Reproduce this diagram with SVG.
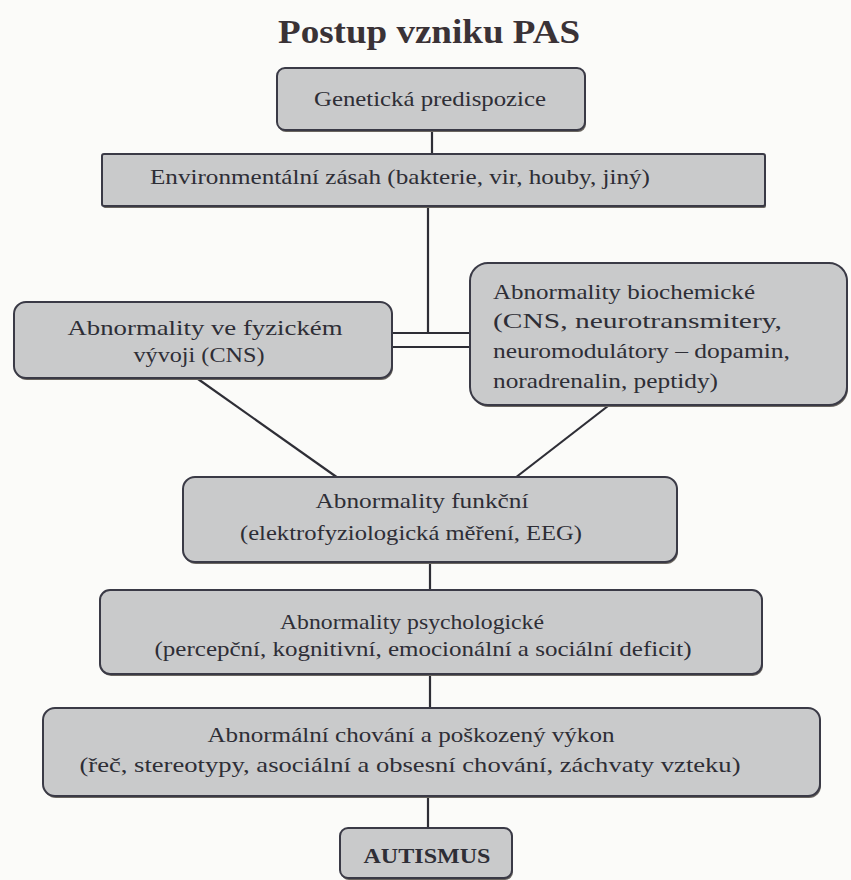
<svg xmlns="http://www.w3.org/2000/svg" width="851" height="880" viewBox="0 0 851 880">
<style>
.bg{fill:#fbfbf9}
.box{fill:#c9cacb;stroke:#3a3a46;stroke-width:2}
.sh{fill:#6a6660}
.t{font-family:"Liberation Serif",serif;font-size:21px;fill:#2e2e36;text-anchor:middle}
.tl{text-anchor:start}
.title{font-family:"Liberation Serif",serif;font-size:33px;font-weight:bold;fill:#3a3236;text-anchor:middle}
.c{stroke:#2e2e36;stroke-width:2.2;fill:none}
</style>
<rect class="bg" x="0" y="0" width="851" height="880"/>
<text class="title" x="429" y="43" textLength="302" lengthAdjust="spacingAndGlyphs">Postup vzniku PAS</text>
<g id="connectors">
<line class="c" x1="432" y1="130" x2="432" y2="154"/>
<line class="c" x1="428" y1="206" x2="428" y2="333"/>
<line class="c" x1="392" y1="333" x2="470" y2="333"/>
<line class="c" x1="392" y1="347" x2="470" y2="347"/>
<line class="c" x1="198" y1="379" x2="338" y2="478"/>
<line class="c" x1="608" y1="406" x2="515" y2="478"/>
<line class="c" x1="430" y1="563" x2="430" y2="590"/>
<line class="c" x1="430" y1="676" x2="430" y2="707"/>
<line class="c" x1="428" y1="796" x2="428" y2="828"/>
</g>
<g id="genetic">
<rect class="sh" x="278" y="70" width="308" height="62" rx="8"/>
<rect class="box" x="277" y="68" width="308" height="62" rx="8"/>
<text class="t" x="430" y="106" textLength="232" lengthAdjust="spacingAndGlyphs">Genetická predispozice</text>
</g>
<g id="environment">
<rect class="sh" x="103" y="156" width="663" height="52" rx="2"/>
<rect class="box" x="102" y="154" width="663" height="52" rx="2"/>
<text class="t" x="400" y="184" textLength="500" lengthAdjust="spacingAndGlyphs">Environmentální zásah (bakterie, vir, houby, jiný)</text>
</g>
<g id="physical">
<rect class="sh" x="15" y="304" width="378" height="76" rx="12"/>
<rect class="box" x="14" y="302" width="378" height="76" rx="12"/>
<text class="t" x="205" y="335" textLength="275" lengthAdjust="spacingAndGlyphs">Abnormality ve fyzickém</text>
<text class="t" x="199" y="362" textLength="131" lengthAdjust="spacingAndGlyphs">vývoji (CNS)</text>
</g>
<g id="biochemical">
<rect class="sh" x="471" y="265" width="377" height="142" rx="18"/>
<rect class="box" x="470" y="263" width="377" height="142" rx="18"/>
<text class="t tl" x="493" y="299" textLength="262" lengthAdjust="spacingAndGlyphs">Abnormality biochemické</text>
<text class="t tl" x="493" y="328" textLength="289" lengthAdjust="spacingAndGlyphs">(CNS, neurotransmitery,</text>
<text class="t tl" x="493" y="358" textLength="297" lengthAdjust="spacingAndGlyphs">neuromodulátory – dopamin,</text>
<text class="t tl" x="493" y="388" textLength="225" lengthAdjust="spacingAndGlyphs">noradrenalin, peptidy)</text>
</g>
<g id="functional">
<rect class="sh" x="184" y="479" width="494" height="85" rx="12"/>
<rect class="box" x="183" y="477" width="494" height="85" rx="12"/>
<text class="t" x="422" y="508" textLength="213" lengthAdjust="spacingAndGlyphs">Abnormality funkční</text>
<text class="t" x="411" y="540" textLength="342" lengthAdjust="spacingAndGlyphs">(elektrofyziologická měření, EEG)</text>
</g>
<g id="psychological">
<rect class="sh" x="101" y="592" width="662" height="84" rx="10"/>
<rect class="box" x="100" y="590" width="662" height="84" rx="10"/>
<text class="t" x="412" y="629" textLength="264" lengthAdjust="spacingAndGlyphs">Abnormality psychologické</text>
<text class="t" x="423" y="656" textLength="537" lengthAdjust="spacingAndGlyphs">(percepční, kognitivní, emocionální a sociální deficit)</text>
</g>
<g id="behavior">
<rect class="sh" x="44" y="710" width="777" height="88" rx="12"/>
<rect class="box" x="43" y="708" width="777" height="88" rx="12"/>
<text class="t" x="411" y="742" textLength="407" lengthAdjust="spacingAndGlyphs">Abnormální chování a poškozený výkon</text>
<text class="t" x="410" y="772" textLength="661" lengthAdjust="spacingAndGlyphs">(řeč, stereotypy, asociální a obsesní chování, záchvaty vzteku)</text>
</g>
<g id="autismus">
<rect class="sh" x="341" y="830" width="172" height="50" rx="8"/>
<rect class="box" x="340" y="828" width="172" height="50" rx="8"/>
<text class="t" x="427" y="863" textLength="127" lengthAdjust="spacingAndGlyphs" style="font-weight:bold;font-size:21px">AUTISMUS</text>
</g>
</svg>
